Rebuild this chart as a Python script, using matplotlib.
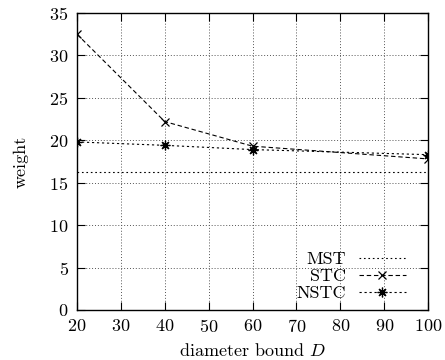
import matplotlib
matplotlib.use("Agg")
import matplotlib.pyplot as plt

plt.rcParams['font.family'] = ['cmr10', 'DejaVu Serif']
plt.rcParams['mathtext.fontset'] = 'cm'
plt.rcParams['axes.formatter.use_mathtext'] = True

D = [20, 40, 60, 100]
mst = [16.3, 16.3, 16.3, 16.3]
stc = [32.5, 22.2, 19.3, 17.8]
nstc = [19.8, 19.4, 18.9, 18.3]
xticks = [20, 30, 40, 50, 60, 70, 80, 90, 100]
yticks = [0, 5, 10, 15, 20, 25, 30, 35]

FS = 13

fig = plt.figure(figsize=(4.45, 3.6), dpi=100)
ax = fig.add_axes([0.173, 0.139, 0.789, 0.825])

ax.plot(D, mst, color='black', lw=0.8, ls=(0, (1.5, 2.5)), label='MST')
ax.plot(D, stc, color='black', lw=0.8, ls=(0, (4, 2.5)), marker='x', ms=6,
        mew=0.9, label='STC')
ax.plot(D, nstc, color='black', lw=0.8, ls=(0, (2, 2.5)), marker=(8, 2, 0),
        ms=7, mew=0.9, label='NSTC')

ax.set_xlim(20, 100)
ax.set_ylim(0, 35)
ax.set_xticks(xticks)
ax.set_yticks(yticks)
ax.grid(True, color='#555555', ls=(0, (1, 2)), lw=0.7)
ax.tick_params(direction='in', length=6, width=0.8, top=True, right=True,
               labelsize=FS, pad=6)
for s in ax.spines.values():
    s.set_linewidth(1.0)

ax.set_xlabel(r'diameter bound $D$', fontsize=FS, labelpad=5)
ax.set_ylabel('weight', fontsize=FS, labelpad=15)

leg = ax.legend(loc='lower right', bbox_to_anchor=(0.96, 0.0), frameon=False,
                markerfirst=False, fontsize=FS, handlelength=2.6,
                handletextpad=0.7, labelspacing=0.08, borderaxespad=0.17,
                borderpad=0.3)
for t in leg.get_texts():
    t.set_ha('right')
leg._legend_box.align = 'right'

fig.savefig('out.png', dpi=100)
